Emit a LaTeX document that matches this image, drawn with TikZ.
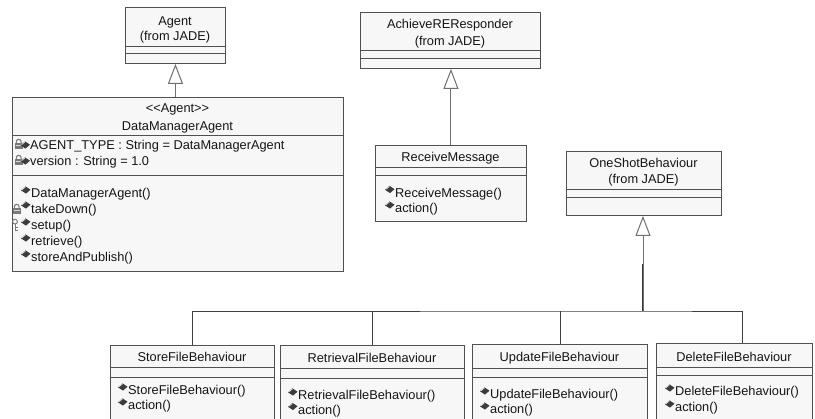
\documentclass[tikz,border=0pt]{standalone}
\usepackage{fontspec}
\newfontfamily\umlfont{Liberation Sans}
\usetikzlibrary{arrows.meta}
\definecolor{umlline}{HTML}{505050}
\definecolor{umlfill}{HTML}{F7F7F7}
\definecolor{umltext}{HTML}{151515}
\definecolor{icondark}{HTML}{3C3C3C}
\definecolor{iconlight}{HTML}{7A7A7A}
\definecolor{connline}{HTML}{707070}
\tikzset{
 box/.style={draw=umlline, fill=umlfill, line width=0.9pt, rectangle, inner sep=0pt, anchor=north west},
 div/.style={draw=umlline, line width=0.9pt},
 ctext/.style={text=umltext, font=\umlfont\fontsize{12.8}{14}\selectfont, inner sep=0pt, anchor=base},
 ltext/.style={ctext, anchor=base west},
 gen/.style={draw=connline, line width=1pt, -{Triangle[open, length=20pt, width=15pt, fill=white]}},
 busline/.style={draw=black!75, line width=0.9pt},
 meth/.pic={\fill[icondark] (-0.5,0.3) -- (4,-3.6) -- (9,-0.3) -- (4.5,3.6) -- cycle;
            \draw[white!75!gray, line width=0.7pt] (0.6,-0.3) -- (3.9,-3);},
 lockp/.pic={\draw[iconlight, line width=1.1pt] (1.8,0) -- (1.8,-1.8) arc(180:360:2.4) -- (6.6,0);
             \fill[iconlight] (0,0) rectangle (8.5,5.5);
             \fill[white!70!gray] (1,1.2) rectangle (7.5,2.2);},
 keyp/.pic={\draw[iconlight, line width=0.9pt] (3,2.6) circle (2.4);
            \draw[iconlight, line width=1pt] (3,5) -- (3,12.5) (3,9) -- (5.8,9) (3,11.8) -- (5.8,11.8);},
}
\begin{document}
\begin{tikzpicture}[x=1pt, y=-1pt]
\useasboundingbox (0,0) rectangle (815,419);
\clip (0,0) rectangle (815,419);
\fill[white] (0,0) rectangle (815,419);

% ---------- Agent ----------
\node[box, minimum width=100pt, minimum height=56pt] (agent) at (125,7) {};
\draw[div] (125,46) -- (225,46);
\draw[div] (125,53) -- (225,53);
\node[ctext] (agentT1) at (175,25.5) {Agent};
\node[ctext] (agentT2) at (175,41) {(from JADE)};

% ---------- DataManagerAgent ----------
\node[box, minimum width=331pt, minimum height=174pt] (dma) at (12,97) {};
\draw[div] (12,135) -- (343,135);
\draw[div] (12,175) -- (343,175);
\node[ctext] (dmaT1) at (177.5,113) {{<}{<}Agent{>}{>}};
\node[ctext] (dmaT2) at (177.5,130.5) {DataManagerAgent};
\pic at (14.5,143.5) {lockp};
\pic at (21,145) {meth};
\node[ltext] (dmaA1) at (30,150) {AGENT\_TYPE : String = DataManagerAgent};
\pic at (14.5,159.5) {lockp};
\pic at (21,161) {meth};
\node[ltext] (dmaA2) at (30,166) {version : String = 1.0};
\pic at (21.5,190) {meth};
\node[ltext] (dmaM1) at (31,198) {DataManagerAgent()};
\pic at (12.5,208.5) {lockp};
\pic at (21.5,205) {meth};
\node[ltext] (dmaM2) at (31,214) {takeDown()};
\pic at (12,219) {keyp};
\pic at (21.5,222) {meth};
\node[ltext] (dmaM3) at (31,230) {setup()};
\pic at (21.5,238) {meth};
\node[ltext] (dmaM4) at (31,246) {retrieve()};
\pic at (21.5,254) {meth};
\node[ltext] (dmaM5) at (31,262) {storeAndPublish()};

% ---------- AchieveREResponder ----------
\node[box, minimum width=180pt, minimum height=56pt] (arr) at (360,12) {};
\draw[div] (360,50) -- (540,50);
\draw[div] (360,58) -- (540,58);
\node[ctext] (arrT1) at (450,28.5) {AchieveREResponder};
\node[ctext] (arrT2) at (450,46) {(from JADE)};

% ---------- ReceiveMessage ----------
\node[box, minimum width=151pt, minimum height=76pt] (rm) at (375,145) {};
\draw[div] (375,167) -- (526,167);
\draw[div] (375,175) -- (526,175);
\node[ctext] (rmT1) at (450.5,161.5) {ReceiveMessage};
\pic at (385.5,189.5) {meth};
\node[ltext] (rmM1) at (395,197.5) {ReceiveMessage()};
\pic at (385.5,205) {meth};
\node[ltext] (rmM2) at (395,213) {action()};

% ---------- OneShotBehaviour ----------
\node[box, minimum width=155pt, minimum height=64pt] (osb) at (566,151) {};
\draw[div] (566,189) -- (721,189);
\draw[div] (566,197) -- (721,197);
\node[ctext] (osbT1) at (643.5,167.5) {OneShotBehaviour};
\node[ctext] (osbT2) at (643.5,184) {(from JADE)};

% ---------- StoreFileBehaviour ----------
\node[box, minimum width=164pt, minimum height=90pt] (store) at (110,345) {};
\draw[div] (110,367) -- (274,367);
\draw[div] (110,377) -- (274,377);
\node[ctext] (storeT1) at (192,362) {StoreFileBehaviour};
\pic at (118.5,387) {meth};
\node[ltext] (storeM1) at (128,395) {StoreFileBehaviour()};
\pic at (118.5,402) {meth};
\node[ltext] (storeM2) at (128,410) {action()};

% ---------- RetrievalFileBehaviour ----------
\node[box, minimum width=184pt, minimum height=90pt] (ret) at (280,345) {};
\draw[div] (280,368) -- (464,368);
\draw[div] (280,378) -- (464,378);
\node[ctext] (retT1) at (372,362.5) {RetrievalFileBehaviour};
\pic at (288.5,392) {meth};
\node[ltext] (retM1) at (298,400) {RetrievalFileBehaviour()};
\pic at (288.5,406.5) {meth};
\node[ltext] (retM2) at (298,414.5) {action()};

% ---------- UpdateFileBehaviour ----------
\node[box, minimum width=175pt, minimum height=91pt] (upd) at (472,344) {};
\draw[div] (472,368) -- (647,368);
\draw[div] (472,377) -- (647,377);
\node[ctext] (updT1) at (559.5,362) {UpdateFileBehaviour};
\pic at (480.5,391) {meth};
\node[ltext] (updM1) at (490,399) {UpdateFileBehaviour()};
\pic at (480.5,406) {meth};
\node[ltext] (updM2) at (490,414) {action()};

% ---------- DeleteFileBehaviour ----------
\node[box, minimum width=156pt, minimum height=92pt] (del) at (656,343) {};
\draw[div] (656,367) -- (812,367);
\draw[div] (656,375) -- (812,375);
\node[ctext] (delT1) at (734,361.5) {DeleteFileBehaviour};
\pic at (665.5,388) {meth};
\node[ltext] (delM1) at (675,396) {DeleteFileBehaviour()};
\pic at (665.5,404) {meth};
\node[ltext] (delM2) at (675,412) {action()};

% ---------- connectors ----------
\draw[gen] (dma.north -| agent.south) -- (agent.south);
\draw[gen] (rm.north) -- (rm.north |- arr.south);

\coordinate (bus) at (643,311);
\coordinate (delDrop) at ([xshift=8pt]del.north);
\draw[busline] (store.north) |- (bus) -| (delDrop);
\draw[busline] (ret.north) -- (ret.north |- bus);
\draw[busline] (upd.north) -- (upd.north |- bus);
\draw[line width=2.2pt, black!80] (bus) -- ++(0,-47);
\draw[gen] (bus) -- (bus |- osb.south);
\end{tikzpicture}
\end{document}
